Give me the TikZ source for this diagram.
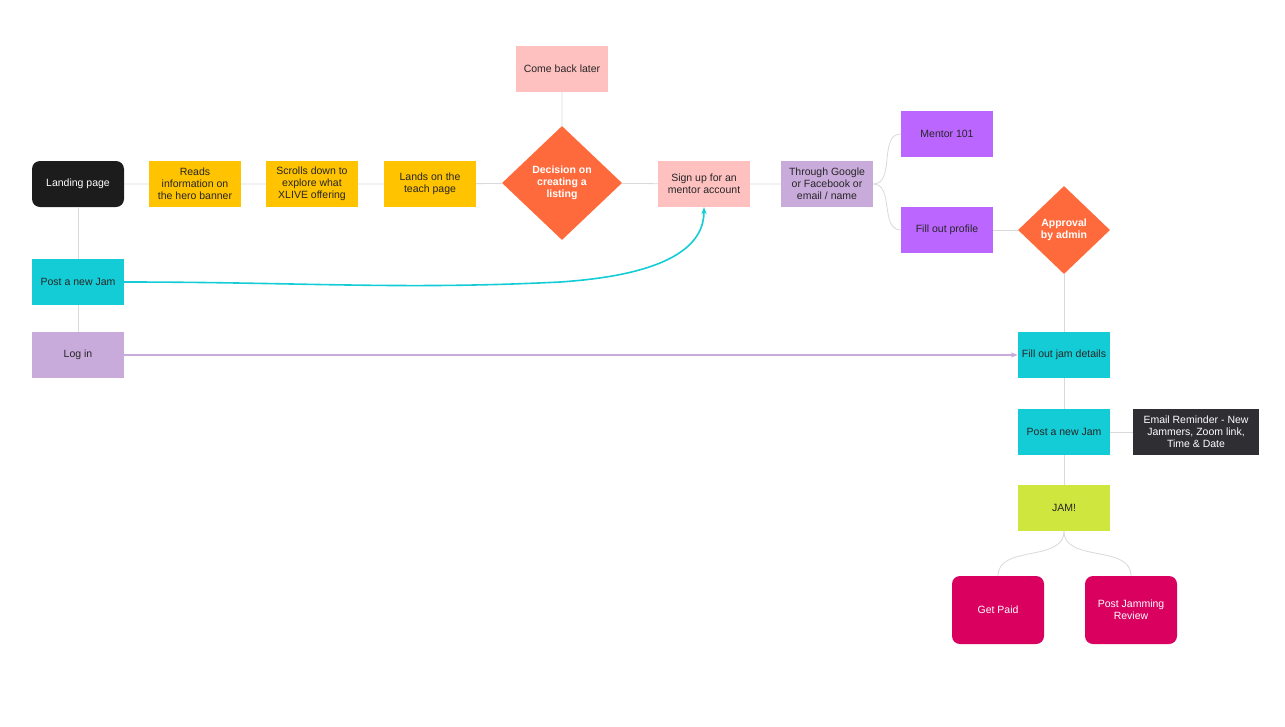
\documentclass[tikz,border=0pt]{standalone}
\usepackage{fontspec}
\setmainfont{Liberation Sans}
\usetikzlibrary{shapes.geometric,arrows.meta}
\definecolor{inkblack}{HTML}{1C1C1C}
\definecolor{sunny}{HTML}{FFC300}
\definecolor{blush}{HTML}{FFC0C0}
\definecolor{coral}{HTML}{FF6A3D}
\definecolor{lilac}{HTML}{C9ABDB}
\definecolor{violet}{HTML}{BB66FF}
\definecolor{aqua}{HTML}{14CCD6}
\definecolor{lime}{HTML}{CFE63F}
\definecolor{slate}{HTML}{2E2E33}
\definecolor{berry}{HTML}{DA0060}
\definecolor{wire}{HTML}{D9D9D9}
\tikzset{
  font={\fontsize{10.5pt}{12}\selectfont}}

\begin{document}
\begin{tikzpicture}[x=1pt,y=-1pt]
\tikzstyle{every node}+=[inner sep=0pt]
\tikzstyle{box}=[rectangle,minimum width=92pt,minimum height=46pt,align=center,text=black!85]
\tikzstyle{gate}=[diamond,minimum width=120pt,minimum height=114pt,align=center,fill=coral,text=white,font={\fontsize{10.5pt}{12}\selectfont\bfseries}]
\tikzstyle{link}=[draw=wire,line width=0.8pt]
\useasboundingbox (0,0) rectangle (1285,726);
\node [box,fill=inkblack,rounded corners=8pt,text=white] (landing) at (78,184) {Landing page};
\node [box,fill=sunny] (reads) at (195,184) {Reads\\information on\\the hero banner};
\node [box,fill=sunny] (scrolls) at (312,184) {Scrolls down to\\explore what\\XLIVE offering};
\node [box,fill=sunny] (lands) at (430,184) {Lands on the\\teach page};
\node [gate] (decide) at (562,183) {Decision on\\creating a\\listing};
\node [box,fill=blush] (later) at (562,69) {Come back later};
\node [box,fill=blush] (signup) at (704,184) {Sign up for an\\mentor account};
\node [box,fill=lilac] (through) at (827,184) {Through Google\\or Facebook or\\email / name};
\node [box,fill=violet] (mentor) at (947,134) {Mentor 101};
\node [box,fill=violet] (profile) at (947,230) {Fill out profile};
\node [gate,minimum width=92pt,minimum height=88pt] (approve) at (1064,230) {Approval\\by admin};
\node [box,fill=aqua] (details) at (1064,355) {Fill out jam details};
\node [box,fill=aqua] (postr) at (1064,432) {Post a new Jam};
\node [box,fill=slate,text=white,minimum width=126pt] (email) at (1196,432) {Email Reminder - New\\Jammers, Zoom link,\\Time \& Date};
\node [box,fill=lime] (jam) at (1064,508) {JAM!};
\node [box,fill=berry,text=white,rounded corners=8pt,minimum height=68pt] (paid) at (998,610) {Get Paid};
\node [box,fill=berry,text=white,rounded corners=8pt,minimum height=68pt] (review) at (1131,610) {Post Jamming\\Review};
\node [box,fill=aqua] (postl) at (78,282) {Post a new Jam};
\node [box,fill=lilac] (login) at (78,355) {Log in};
% grey connectors
\draw [link] (landing) -- (reads) (reads) -- (scrolls) (scrolls) -- (lands) (lands) -- (decide);
\draw [link] (decide) -- (later) (decide) -- (signup) (signup) -- (through);
\draw [link] (landing) -- (postl) (postl) -- (login);
\draw [link] (through.east) to[out=0,in=180] (mentor.west);
\draw [link] (through.east) to[out=0,in=180] (profile.west);
\draw [link] (profile) -- (approve) (approve) -- (details) (details) -- (postr) (postr) -- (email) (postr) -- (jam);
\draw [link] (jam.south) to[out=-90,in=90] (paid.north);
\draw [link] (jam.south) to[out=-90,in=90] (review.north);
% coloured arrows
\draw [aqua,line width=1.6pt,-{Stealth[length=7pt]}] (postl.east) .. controls (300,282) and (400,290) .. (560,282) .. controls (680,274) and (704,240) .. (signup.south);
\draw [lilac,line width=1.6pt,-{Stealth[length=7pt]}] (login) -- (details);
\end{tikzpicture}
\end{document}
